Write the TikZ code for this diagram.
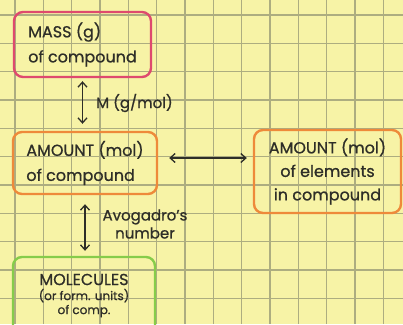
\documentclass[tikz,border=0pt]{standalone}
\usepackage{fontspec}
\setmainfont{Poppins}[FakeBold=0.8]
\usetikzlibrary{arrows.meta}
\definecolor{paper}{HTML}{F7F3A6}
\definecolor{gridc}{HTML}{ADAD80}
\definecolor{massc}{HTML}{DE4A6E}
\definecolor{amtc}{HTML}{EE8A3A}
\definecolor{molc}{HTML}{86CC4A}
\definecolor{ink}{HTML}{2E2E28}
\begin{document}
\begin{tikzpicture}[x=1pt,y=-1pt,
  box/.style={draw, line width=2.4pt, rounded corners=9pt, text=ink, inner sep=0pt, align=left, font=\fontsize{16}{25}\selectfont},
  lbl/.style={text=ink, inner sep=0pt, font=\fontsize{15}{18}\selectfont},
  conn/.style={draw=ink, line width=1.3pt, {Straight Barb[length=5pt,width=9pt]}-{Straight Barb[length=5pt,width=9pt]}}]
\fill[paper] (0,0) rectangle (403,324);
\useasboundingbox (0,0) rectangle (403,324);
\foreach \k in {0,...,13} \draw[gridc, line width=1.5pt] ({15+28.33*\k},0) -- ({15+28.33*\k},324);
\foreach \k in {0,...,10} \draw[gridc, line width=1.5pt] (0,{15+28.33*\k}) -- (403,{15+28.33*\k});

\node[box, draw=massc, minimum width=137pt, minimum height=65pt] (mass) at (82.5,44.5) {MASS (g)\\of compound};
\node[box, draw=amtc, minimum width=144pt, minimum height=62pt] (amt) at (85,163) {AMOUNT (mol)\\of compound};
\node[box, draw=amtc, align=center, minimum width=147pt, minimum height=83pt, font=\fontsize{16}{23.5}\selectfont] (elem) at (327.5,171.5) {AMOUNT (mol)\\of elements\\in compound};
\node[box, draw=molc, align=center, minimum width=142pt, minimum height=77pt, font=\fontsize{16}{18}\selectfont] (mol) at (84,295.5) {MOLECULES\\[-3pt]{\fontsize{12}{13}\selectfont (or form. units)}\\[-4pt]{\fontsize{12}{13}\selectfont of comp.}};

\draw[conn, shorten <=3pt, shorten >=7pt] (mass.south) -- (mass.south |- amt.north);
\draw[conn, shorten <=9pt, shorten >=5pt] ([xshift=0pt]amt.south) -- (amt.south |- mol.north);
\draw[conn, shorten <=11pt, shorten >=6pt] ([yshift=5pt]amt.east) -- ([yshift=5pt]amt.east -| elem.west);

\node[lbl, anchor=west] (mlab) at (96,103) {M (g/mol)};
\node[lbl, align=center] (alab) at (145,224) {Avogadro's\\number};
\end{tikzpicture}
\end{document}
